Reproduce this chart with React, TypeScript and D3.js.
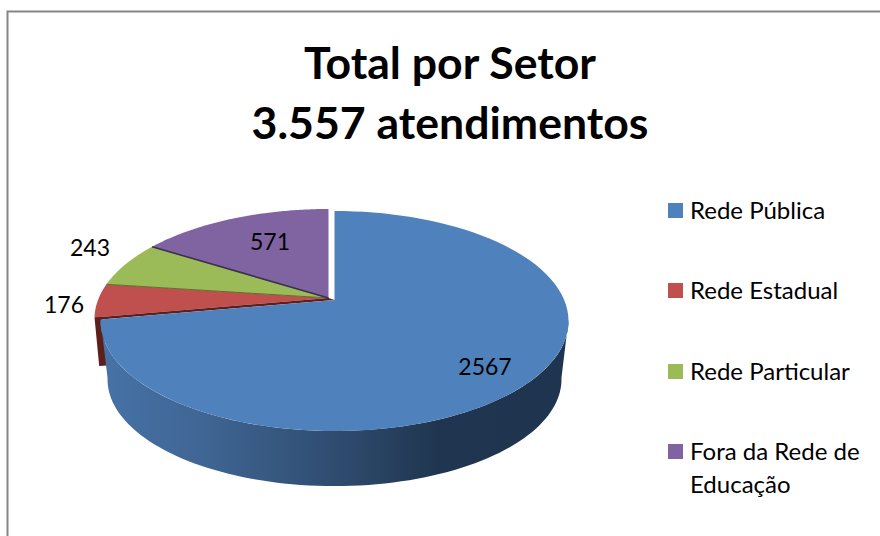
import React from "react";
import * as d3 from "d3";

const categories = ["Rede Pública", "Rede Estadual", "Rede Particular", "Fora da Rede de Educação"];
const values = [2567, 176, 243, 571];
const colors = ["#4f81bd", "#c0504d", "#9bbb59", "#8064a2"];
const edgeColors = ["#5c1f1c", "#5c6f2e", "#3c2f50", "#3c2f50"];
const titleLines = ["Total por Setor", "3.557 atendimentos"];
const legendLines = [["Rede Pública"], ["Rede Estadual"], ["Rede Particular"], ["Fora da Rede de", "Educação"]];
const legendY = [211, 291, 372, 452];
const labelPos: [number, number][] = [[485, 367], [64, 305], [90, 248], [270, 242]];

const FONT = "Lato, Carlito, 'Open Sans', sans-serif";
const k = 0.191;
const R = 229.7;
const Ry = 106;

type Centre = { x: number; y: number };
const frontCentre: Centre = { x: 334.5, y: 300 };
const backCentre: Centre = { x: 328.5, y: 298 };

// Perspective projection of the pie disc onto the page
function project(c: Centre, a: number, frac = 1, scale = 1, drop = 0): [number, number] {
  const s = 1 / (1 + k * Math.cos(a) * frac);
  return [
    c.x + R * scale * frac * Math.sin(a) * s,
    c.y + drop - Ry * scale * frac * Math.cos(a) * s,
  ];
}

const arcs = d3.pie<number>().sort(null).startAngle(0).endAngle(2 * Math.PI)(values);
const line = d3.line();

function samples(a0: number, a1: number, n = 90) {
  return d3.range(n + 1).map((i) => a0 + ((a1 - a0) * i) / n);
}

function slicePath(c: Centre, a0: number, a1: number) {
  const rim = samples(a0, a1).map((a) => project(c, a));
  return line([[c.x, c.y], ...rim]) + "Z";
}

function wallPath(c: Centre, a0: number, a1: number, scale: number, drop: number) {
  const top = samples(a0, a1).map((a) => project(c, a));
  const bottom = samples(a1, a0).map((a) => project(c, a, 1, scale, drop));
  return line([...top, ...bottom]) + "Z";
}

export default function App() {
  const blue = arcs[0];
  const cut = blue.endAngle;
  const cutFace = line([
    project(backCentre, cut),
    project(backCentre, cut, 0.968),
    project(backCentre, cut, 0.968, 0.98, 49),
    project(backCentre, cut, 1, 0.98, 49),
  ]) + "Z";
  const seam = line([
    [backCentre.x, backCentre.y],
    [frontCentre.x, frontCentre.y],
    project(frontCentre, cut),
    project(backCentre, cut),
  ]) + "Z";
  return (
    <svg
      width={880}
      height={536}
      viewBox="0 0 880 536"
      style={{ position: "absolute", left: 0, top: 0, background: "#fff" }}
    >
      <defs>
        <linearGradient id="wall" gradientUnits="userSpaceOnUse" x1={105} x2={565} y1={0} y2={0}>
          <stop offset="0" stopColor="#4672a6" />
          <stop offset="0.22" stopColor="#3f6593" />
          <stop offset="0.5" stopColor="#2f4c70" />
          <stop offset="0.72" stopColor="#203650" />
          <stop offset="1" stopColor="#1f344e" />
        </linearGradient>
      </defs>
      <path d="M7.5 536V11.5H880" fill="none" stroke="#868686" strokeWidth={2} />

      {titleLines.map((t, i) => (
        <text key={t} x={450} y={[79, 139][i]} textAnchor="middle" fontFamily={FONT} fontWeight={700} fontSize={44.6} fill="#000">
          {t}
        </text>
      ))}

      <path d={cutFace} fill={edgeColors[0]} />
      <path d={wallPath(frontCentre, 1.75, cut, 0.97, 59)} fill="url(#wall)" />

      {arcs.slice(1).map((d, i) => (
        <path key={categories[i + 1]} d={slicePath(backCentre, d.startAngle, d.endAngle)} fill={colors[i + 1]} />
      ))}
      {arcs.slice(2).map((d, i) => (
        <path
          key={"edge" + i}
          d={line([[backCentre.x, backCentre.y], project(backCentre, d.startAngle)]) as string}
          stroke={edgeColors[i + 1]}
          strokeWidth={i === 0 ? 1 : 1.6}
          fill="none"
        />
      ))}
      <path d={seam} fill={edgeColors[0]} />
      <path d={slicePath(frontCentre, blue.startAngle, blue.endAngle)} fill={colors[0]} />

      {values.map((v, i) => (
        <text key={i} x={labelPos[i][0]} y={labelPos[i][1]} dy="0.35em" textAnchor="middle" fontFamily={FONT} fontSize={23} fill="#000">
          {v}
        </text>
      ))}

      {categories.map((c, i) => (
        <g key={c}>
          <rect x={668} y={legendY[i] - 8} width={15} height={15} fill={colors[i]} />
          {legendLines[i].map((l, j) => (
            <text key={l} x={690} y={legendY[i] + j * 33} dy="0.35em" fontFamily={FONT} fontSize={24} fill="#000">
              {l}
            </text>
          ))}
        </g>
      ))}
    </svg>
  );
}
